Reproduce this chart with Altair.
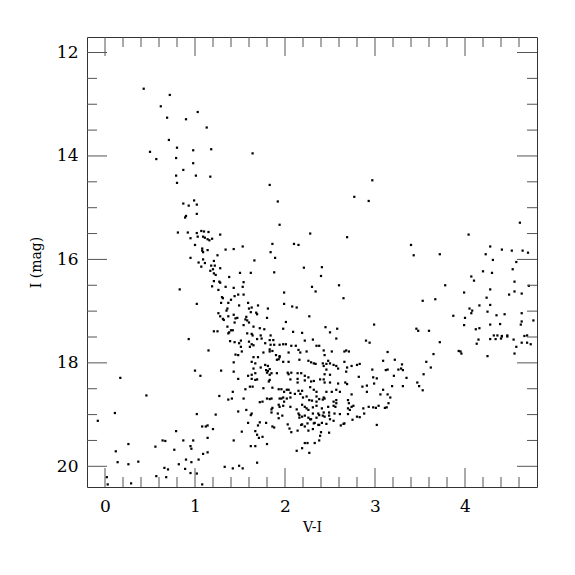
import altair as alt
import pandas as pd

# (V-I, I) pairs, grouped by region of the diagram
upper_blue = [
    (0.43,12.70),(0.72,12.82),(0.62,13.04),(1.03,13.15),(0.69,13.26),(0.90,13.29),(1.13,13.45),
    (0.71,13.69),(0.80,13.84),(0.98,13.89),(1.18,13.87),(0.50,13.92),(0.57,14.06),(0.79,14.04),
    (0.98,14.14),(0.87,14.27),(0.79,14.38),(1.01,14.38),(1.17,14.40),(0.80,14.52),(1.64,13.95),
    (1.83,14.56),(2.97,14.47),
]
blue_branch = [
    (0.99,14.86),(0.87,14.92),(0.93,14.96),(1.02,14.94),(1.02,15.12),(0.90,15.16),(0.89,15.19),
    (0.81,15.48),(0.92,15.48),(1.02,15.49),(1.07,15.45),(1.10,15.46),(1.15,15.47),(1.03,15.56),
    (1.09,15.56),(1.11,15.58),(1.14,15.61),(1.16,15.63),(1.19,15.60),(1.28,15.52),(0.95,15.59),
    (1.00,15.72),(1.08,15.79),(1.08,15.83),(1.09,15.86),(1.14,15.82),(1.34,15.81),(1.43,15.80),
    (1.25,15.92),(0.95,15.97),(1.09,16.00),(1.04,16.06),(1.11,16.07),(1.21,16.03),(1.07,16.14),
    (1.18,16.12),(1.22,16.12),(1.20,16.19),(1.28,16.17),(1.17,16.22),(1.21,16.27),(1.23,16.30),
    (1.38,16.34),(1.21,16.42),(1.27,16.43),(1.28,16.45),(1.19,16.52),(1.34,16.53),(1.26,16.59),
    (1.43,16.55),(0.83,16.58),(1.30,16.73),(1.31,16.75),(1.44,16.71),(1.40,16.78),(1.29,16.84),
    (1.37,16.84),(1.02,16.86),(1.36,16.95),(1.35,16.99),(1.26,17.04),(1.43,17.07),(1.28,17.10),
    (1.37,17.10),(1.31,17.15),(1.32,17.17),(1.45,17.14),(1.44,17.22),(1.36,17.30),(1.40,17.37),
    (1.42,17.37),(1.38,17.41),(1.37,17.43),(1.21,17.39),(1.25,17.39),
]
faint_blue = [
    (0.93,17.54),(1.39,17.58),(1.44,17.60),(1.15,17.76),(1.45,17.84),(1.43,17.99),(1.00,18.15),
    (1.29,18.15),(1.43,18.17),(0.17,18.29),(1.06,18.25),(1.42,18.56),(1.27,18.64),(1.37,18.71),
    (1.41,18.69),(0.46,18.63),(0.11,18.97),(-0.08,19.12),(1.02,18.99),(1.23,19.00),(1.08,19.23),
    (1.12,19.23),(1.14,19.21),(1.20,19.28),(0.79,19.32),(0.64,19.50),(0.67,19.51),(0.87,19.50),
    (0.98,19.50),(1.14,19.45),(1.43,19.50),(0.26,19.57),(0.56,19.62),(0.95,19.61),(0.96,19.66),
    (0.77,19.68),(0.12,19.71),(1.09,19.76),(1.14,19.73),(0.37,19.91),(0.14,19.92),(0.26,19.96),
    (0.90,19.87),(0.96,19.92),(1.04,19.87),(0.82,19.96),(0.66,20.03),(0.70,20.06),(0.89,20.05),
    (0.95,20.13),(1.02,20.14),(1.33,20.01),(1.42,20.04),(0.57,20.19),(0.68,20.21),(0.02,20.21),
    (0.03,20.35),(0.29,20.33),(1.08,20.35),
]
mid_upper = [
    (1.92,14.88),(2.77,14.79),(2.93,14.87),(1.94,15.33),(2.28,15.50),(2.69,15.57),(1.53,15.75),
    (1.86,15.70),(2.10,15.70),(2.15,15.72),(1.84,15.86),(1.89,15.97),(1.66,16.02),(2.21,16.16),
    (2.41,16.15),(1.50,16.26),(1.62,16.26),(1.88,16.25),(2.40,16.32),(1.54,16.44),(1.53,16.53),
    (2.30,16.53),(2.60,16.50),(2.34,16.62),(1.99,16.64),(1.48,16.68),(1.54,16.68),(2.65,16.75),
    (1.59,16.84),(1.49,16.89),(1.70,16.89),(1.99,16.86),(1.60,16.95),(1.63,16.93),(1.81,16.95),
    (2.08,16.91),(2.13,16.93),(1.62,17.02),(1.68,17.03),(1.69,17.06),(1.47,17.13),(1.57,17.11),
    (1.56,17.16),(1.58,17.18),(1.60,17.22),(1.80,17.13),(2.27,17.10),(2.01,17.21),(2.99,17.26),
    (1.54,17.27),(1.65,17.30),(1.72,17.33),(1.77,17.35),(1.98,17.34),(2.09,17.40),(2.19,17.42),
    (2.45,17.31),(2.50,17.41),(2.58,17.34),(1.58,17.43),(1.63,17.44),(1.64,17.47),(1.73,17.47),
    (1.84,17.47),
]
red_clump_upper = [
    (1.51,17.57),(1.49,17.62),(1.51,17.69),(1.60,17.59),(1.63,17.64),(1.61,17.69),(1.65,17.66),
    (1.69,17.54),(1.74,17.53),(1.78,17.62),(1.83,17.56),(1.87,17.56),(1.84,17.65),(1.88,17.65),
    (1.94,17.65),(1.98,17.64),(2.01,17.64),(2.07,17.67),(2.12,17.67),(2.22,17.57),(2.31,17.55),
    (2.35,17.67),(2.38,17.67),(2.57,17.53),(2.90,17.57),(2.94,17.61),
    (1.48,17.85),(1.52,17.78),(1.65,17.89),(1.70,17.89),(1.76,17.80),(1.83,17.74),(1.83,17.78),
    (1.86,17.77),(1.90,17.85),(1.94,17.87),(2.04,17.80),(2.15,17.75),(2.17,17.80),(2.24,17.78),
    (2.43,17.76),(2.44,17.85),(2.52,17.78),(2.66,17.78),(2.68,17.76),(2.71,17.78),
    (1.63,17.98),(1.67,18.01),(1.78,18.04),(1.81,18.06),(1.73,18.09),(1.91,17.94),(1.94,17.89),
    (1.93,17.93),(1.98,17.98),(2.04,17.98),(2.16,17.94),(2.26,17.96),(2.29,17.99),(2.32,18.01),
    (2.34,18.02),(2.42,18.01),(2.43,18.06),(2.46,18.02),(2.48,17.96),(2.50,18.01),(2.54,18.04),
    (2.57,18.06),(2.59,18.11),(2.66,17.98),(2.69,18.09),(2.74,18.06),(2.80,18.04),(2.83,18.02),
    (3.09,17.96),
]
red_clump_mid = [
    (1.65,18.11),(1.67,18.20),(1.63,18.23),(1.79,18.14),(1.81,18.16),(1.83,18.12),(1.80,18.19),
    (1.83,18.23),(1.85,18.20),(1.91,18.20),(2.03,18.19),(2.04,18.22),(2.07,18.19),(2.14,18.20),
    (2.18,18.20),(2.22,18.25),(2.26,18.28),(2.46,18.13),(2.44,18.22),(2.50,18.23),(2.68,18.17),
    (2.97,18.13),(2.98,18.28),(2.82,18.27),(3.12,18.14),
    (1.48,18.31),(1.59,18.25),(1.63,18.31),(1.67,18.33),(1.69,18.32),(1.83,18.33),(1.82,18.36),
    (2.06,18.32),(2.14,18.31),(2.14,18.38),(2.22,18.34),(2.29,18.36),(2.32,18.35),(2.39,18.32),
    (2.43,18.32),(2.44,18.38),(2.50,18.38),(2.59,18.40),(2.67,18.38),(2.69,18.41),(2.86,18.46),
    (2.91,18.44),(2.99,18.40),(3.02,18.30),(1.61,18.46),(1.64,18.46),(1.76,18.49),(1.86,18.48),
    (1.93,18.51),(1.96,18.51),(1.99,18.56),(2.02,18.52),(2.04,18.52),(2.06,18.58),(2.11,18.60),
    (2.15,18.54),(2.19,18.54),(2.28,18.47),(2.32,18.52),(2.35,18.56),(2.46,18.56),(2.52,18.56),
    (2.57,18.52),(2.61,18.56),(2.74,18.61),(2.91,18.56),(3.06,18.61),(3.09,18.52),
]
red_clump_lower = [
    (1.56,18.51),(1.54,18.69),(1.57,18.91),(1.72,18.76),(1.75,18.75),(1.80,18.69),(1.83,18.70),
    (1.85,18.69),(1.94,18.69),(1.96,18.69),(1.98,18.67),(1.99,18.75),(2.02,18.69),(2.06,18.67),
    (2.17,18.60),(2.20,18.67),(2.24,18.65),(2.27,18.72),(2.30,18.73),(2.35,18.65),(2.35,18.75),
    (2.38,18.70),(2.42,18.71),(2.43,18.67),(2.44,18.69),(2.48,18.85),(2.54,18.75),(2.57,18.72),
    (2.57,18.78),(2.54,18.83),(2.56,18.85),(2.70,18.72),(2.71,18.78),(2.74,18.85),(2.76,18.83),
    (2.87,18.88),(2.93,18.85),(2.98,18.86),(3.01,18.87),(3.04,18.83),(3.11,18.87),(1.86,18.87),
    (1.85,18.90),(1.93,18.81),(1.94,18.85),(1.98,18.83),(2.06,18.85),(2.13,18.90),(2.19,18.81),
    (2.22,18.85),(2.24,18.88),(2.26,18.91),(2.31,18.86),(2.35,18.83),(2.41,18.88),(2.70,18.88),
    (2.72,18.91),
]
faint_red = [
    (1.48,18.94),(1.63,18.98),(1.62,19.01),(1.85,18.96),(1.92,18.98),(1.97,19.02),(1.93,19.07),
    (2.15,18.98),(2.16,19.01),(2.16,19.06),(2.19,19.04),(2.22,19.02),(2.26,19.06),(2.28,19.09),
    (2.31,18.98),(2.35,19.06),(2.37,18.98),(2.38,19.01),(2.42,19.02),(2.43,18.96),(2.44,19.04),
    (2.49,18.96),(2.49,19.02),(2.50,19.09),(2.54,19.12),(2.55,18.98),(2.61,18.99),(2.70,18.99),
    (2.75,19.10),(2.80,19.04),(2.83,19.05),(2.88,18.98),(3.02,19.20),(1.59,19.16),(1.72,19.15),
    (1.70,19.21),(1.79,19.16),(1.86,19.23),(1.88,19.25),(1.52,19.33),(1.67,19.32),(1.69,19.39),
    (1.71,19.45),(1.75,19.43),(1.80,19.57),(1.62,19.61),(1.67,19.61),(2.03,19.19),(2.05,19.27),
    (2.07,19.34),(2.14,19.31),(2.18,19.20),(2.19,19.19),(2.22,19.23),(2.25,19.17),(2.26,19.31),
    (2.29,19.09),(2.32,19.17),(2.33,19.16),(2.31,19.28),(2.37,19.20),(2.41,19.16),(2.38,19.20),
    (2.46,19.18),(2.40,19.34),(2.39,19.41),(2.49,19.35),(2.62,19.21),(2.65,19.18),(2.66,19.17),
    (2.38,19.50),(2.33,19.55),(2.22,19.55),(2.25,19.55),(2.19,19.65),(2.13,19.70),(2.27,19.74),
    (1.69,19.93),(1.49,19.99),(1.53,20.04),
]
red_upper = [
    (4.61,15.29),(4.04,15.52),(3.40,15.72),(3.43,15.92),(3.72,15.90),(4.28,15.75),(4.41,15.81),
    (4.52,15.83),(4.64,15.83),(4.70,15.87),(4.23,15.90),(4.31,16.01),(4.57,16.05),(4.53,16.19),
    (4.20,16.23),(4.30,16.26),(4.07,16.33),(4.10,16.41),(4.55,16.43),(3.78,16.50),(4.71,16.51),
    (4.28,16.58),(3.99,16.64),(4.55,16.62),(4.49,16.68),(4.63,16.66),(4.24,16.74),(3.53,16.80),
    (3.67,16.77),(4.28,16.88),(4.16,16.89),(4.05,16.95),(4.08,16.99),(4.07,17.04),(4.25,17.01),
    (3.87,17.09),(4.00,17.13),(4.35,17.08),(4.44,17.06),(4.63,17.04),(4.76,17.18),(4.63,17.20),
    (4.62,17.26),(4.39,17.25),(4.28,17.26),(3.99,17.27),(4.16,17.33),(4.12,17.35),(3.46,17.34),
    (3.48,17.38),(3.60,17.38),(4.32,17.47),(4.36,17.47),(4.41,17.48),(4.47,17.47),(4.66,17.48),
    (4.69,17.47),
]
red_lower = [
    (3.72,17.60),(3.14,17.79),(3.22,17.94),(3.14,18.13),(3.26,18.13),(3.30,18.03),(3.29,18.11),
    (3.31,18.14),(3.21,18.25),(3.35,18.29),(3.19,18.45),(3.31,18.45),(3.14,18.61),(3.17,18.67),
    (3.15,18.78),(3.13,18.86),(3.47,18.38),(3.49,18.45),(3.53,18.53),(3.54,18.22),(3.57,17.98),
    (3.62,18.09),(3.65,17.83),(3.93,17.77),(3.95,17.78),(3.96,17.82),(4.13,17.63),(4.15,17.55),
    (4.25,17.87),(4.28,17.54),(4.34,17.54),(4.40,17.53),(4.41,17.49),(4.47,17.49),(4.54,17.55),
    (4.57,17.69),(4.55,17.82),(4.63,17.61),(4.69,17.61),(4.73,17.64),
]

x_labels = [0, 1, 2, 3, 4]
y_labels = [12, 14, 16, 18, 20]
x_minor = [0.2, 0.4, 0.6, 0.8, 1.2, 1.4, 1.6, 1.8, 2.2, 2.4, 2.6, 2.8,
           3.2, 3.4, 3.6, 3.8, 4.2, 4.4, 4.6]
y_minor = [12.5, 13, 13.5, 14.5, 15, 15.5, 16.5, 17, 17.5, 18.5, 19, 19.5]

groups = [upper_blue, blue_branch, faint_blue, mid_upper, red_clump_upper,
          red_clump_mid, red_clump_lower, faint_red, red_upper, red_lower]
rows = [{"vi": a, "imag": b} for g in groups for (a, b) in g]
df = pd.DataFrame(rows)

W = H = 450
FONT = "DejaVu Serif"
TICK = "#555555"

xs = alt.Scale(domain=[-0.2, 4.8], nice=False, zero=False)
ys = alt.Scale(domain=[11.7, 20.4], nice=False, zero=False, reverse=True)

xaxis = alt.Axis(title="V-I", values=x_labels, ticks=False, domain=False,
                 grid=False, labelPadding=11, format="d", titleY=33)
yaxis = alt.Axis(title="I (mag)", values=y_labels, ticks=False, domain=False,
                 grid=False, labelPadding=9, format="d", titleX=-44, titleY=225)

points = alt.Chart(df).mark_square(size=5, color="black", opacity=1).encode(
    x=alt.X("vi:Q", scale=xs, axis=xaxis),
    y=alt.Y("imag:Q", scale=ys, axis=yaxis),
)

def xticks(vals, length):
    d = pd.DataFrame({"vi": vals})
    bottom = alt.Chart(d).mark_rule(color=TICK, strokeWidth=1).encode(
        x=alt.X("vi:Q", scale=xs, axis=xaxis), y=alt.value(H), y2=alt.value(H - length))
    top = alt.Chart(d).mark_rule(color=TICK, strokeWidth=1).encode(
        x=alt.X("vi:Q", scale=xs, axis=xaxis), y=alt.value(0), y2=alt.value(length))
    return [bottom, top]

def yticks(vals, length):
    d = pd.DataFrame({"imag": vals})
    left = alt.Chart(d).mark_rule(color=TICK, strokeWidth=1).encode(
        y=alt.Y("imag:Q", scale=ys, axis=yaxis), x=alt.value(0), x2=alt.value(length))
    right = alt.Chart(d).mark_rule(color=TICK, strokeWidth=1).encode(
        y=alt.Y("imag:Q", scale=ys, axis=yaxis), x=alt.value(W), x2=alt.value(W - length))
    return [left, right]

layers = [points] + xticks(x_labels, 19) + xticks(x_minor, 10) \
    + yticks(y_labels, 20) + yticks(y_minor, 10)

chart = alt.layer(*layers).properties(
    width=W, height=H,
    autosize=alt.AutoSizeParams(type="none"),
    padding={"left": 79, "top": 29, "right": 30, "bottom": 60},
).configure_view(
    stroke="#333333", strokeWidth=1
).configure_axis(
    labelFont=FONT, labelFontSize=17, labelColor="black",
    titleFont=FONT, titleFontSize=14, titleFontWeight="normal", titleColor="black",
)

chart.save("out.html", embed_options={"renderer": "svg", "actions": False})
